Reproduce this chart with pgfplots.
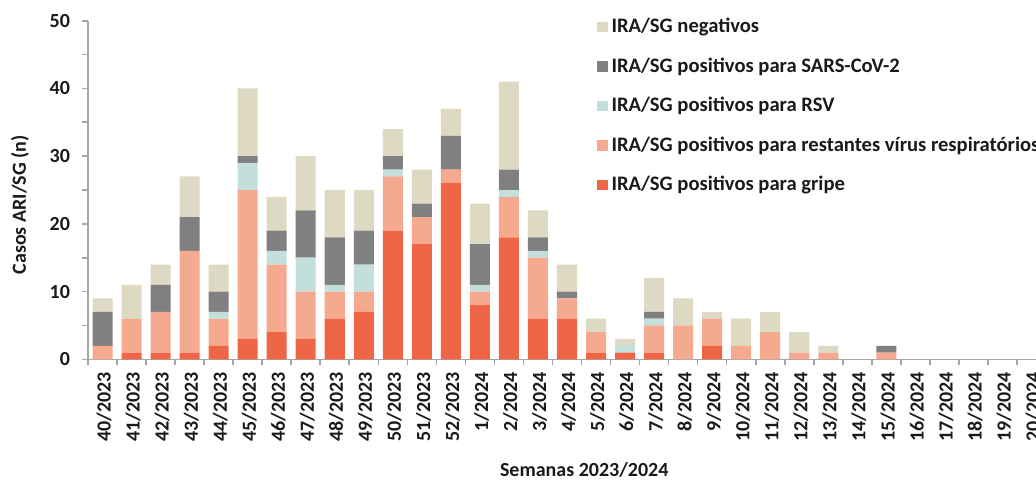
\documentclass[border=0pt]{standalone}
\usepackage{pgfplots}
\pgfplotsset{compat=1.18}
\usepackage{pgfplotstable}
\usepackage{fontspec}
\setmainfont{Carlito}
\definecolor{cneg}{HTML}{DDD9C3}
\definecolor{ccov}{HTML}{808080}
\definecolor{crsv}{HTML}{C3DFDB}
\definecolor{crest}{HTML}{F5AA90}
\definecolor{cflu}{HTML}{EF6647}
\definecolor{axgray}{HTML}{A6A6A6}
\definecolor{txt}{HTML}{1A1A1A}
\pgfplotstableread{
x g r v c n
0 0 2 0 5 2
1 1 5 0 0 5
2 1 6 0 4 3
3 1 15 0 5 6
4 2 4 1 3 4
5 3 22 4 1 10
6 4 10 2 3 5
7 3 7 5 7 8
8 6 4 1 7 7
9 7 3 4 5 6
10 19 8 1 2 4
11 17 4 0 2 5
12 26 2 0 5 4
13 8 2 1 6 6
14 18 6 1 3 13
15 6 9 1 2 4
16 6 3 0 1 4
17 1 3 0 0 2
18 1 0 1 0 1
19 1 4 1 1 5
20 0 5 0 0 4
21 2 4 0 0 1
22 0 2 0 0 4
23 0 4 0 0 3
24 0 1 0 0 3
25 0 1 0 0 1
26 0 0 0 0 0
27 0 1 0 1 0
28 0 0 0 0 0
29 0 0 0 0 0
30 0 0 0 0 0
31 0 0 0 0 0
32 0 0 0 0 0
}\data
\begin{document}
\begin{tikzpicture}
\begin{axis}[
  scale only axis, width=479pt, height=169.3pt,
  xmin=-0.5, xmax=32.5, ymin=0, ymax=50,
  ybar stacked, bar width=0.69,
  axis x line=bottom, axis y line=left,
  axis line style={draw=axgray, line width=0.8pt, -},
  tick align=outside,
  xtick={0,...,32},
  xticklabels={40/2023,41/2023,42/2023,43/2023,44/2023,45/2023,46/2023,47/2023,48/2023,49/2023,50/2023,51/2023,52/2023,1/2024,2/2024,3/2024,4/2024,5/2024,6/2024,7/2024,8/2024,9/2024,10/2024,11/2024,12/2024,13/2024,14/2024,15/2024,16/2024,17/2024,18/2024,19/2024,20/2024},
  minor xtick={-0.5,0.5,...,32.5},
  major x tick style={draw=none},
  minor x tick style={draw=axgray, line width=0.8pt},
  ytick={0,10,...,50}, minor ytick={5,15,...,45},
  y tick style={draw=axgray, line width=0.8pt},
  major tick length=3pt, minor tick length=3pt,
  /pgf/number format/assume math mode=true,
  tick label style={font=\bfseries\fontsize{10}{12}\selectfont, text=txt},
  x tick label style={rotate=90, anchor=east, yshift=-0.8pt},
  y tick label style={xshift=-2.5pt},
  xlabel={Semanas 2023/2024},
  ylabel={Casos ARI/SG (n)},
  label style={font=\bfseries\fontsize{10}{12}\selectfont, text=txt},
  xlabel style={at={(axis description cs:0.518,0)}, anchor=center, yshift=-55.35pt},
  ylabel style={at={(axis description cs:-0.071,0.456)}, anchor=center},
  reverse legend,
  legend cell align=left,
  legend image code/.code={\fill[#1] (0pt,-2.6pt) rectangle (5.2pt,2.6pt);},
  legend style={at={(axis description cs:0.531,1.02)}, anchor=north west, draw=none, fill=none,
    inner sep=0pt, row sep=7pt, font=\bfseries\fontsize{10.3}{12}\selectfont, text=txt},
]
\addplot[fill=cflu, draw=none] table[x=x, y=g] {\data};
\addlegendentry{IRA/SG positivos para gripe}
\addplot[fill=crest, draw=none] table[x=x, y=r] {\data};
\addlegendentry{IRA/SG positivos para restantes vírus respiratórios}
\addplot[fill=crsv, draw=none] table[x=x, y=v] {\data};
\addlegendentry{IRA/SG positivos para RSV}
\addplot[fill=ccov, draw=none] table[x=x, y=c] {\data};
\addlegendentry{IRA/SG positivos para SARS-CoV-2}
\addplot[fill=cneg, draw=none] table[x=x, y=n] {\data};
\addlegendentry{IRA/SG negativos}
\coordinate (o) at (rel axis cs:0,0);
\end{axis}
\pgfresetboundingbox
\path[use as bounding box] ([xshift=-44pt,yshift=-59.85pt]o) rectangle ([xshift=474pt,yshift=179.65pt]o);
\end{tikzpicture}
\end{document}
